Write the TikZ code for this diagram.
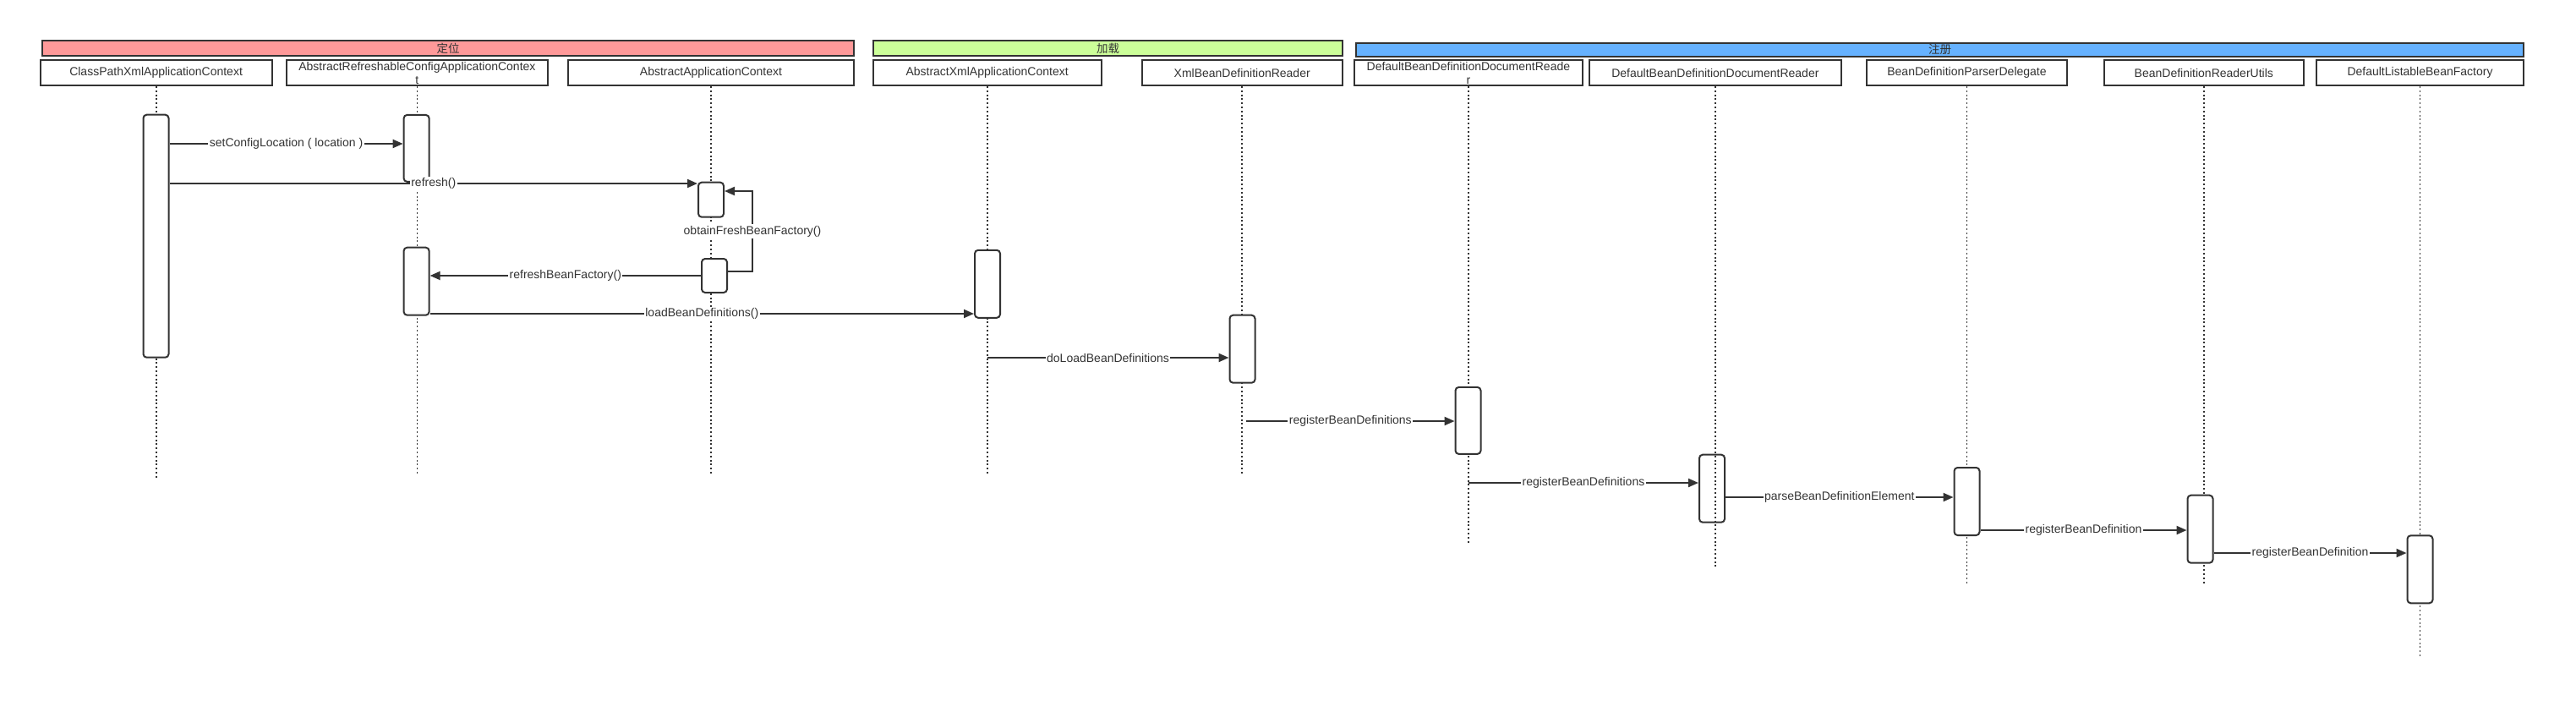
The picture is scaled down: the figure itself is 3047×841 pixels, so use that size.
\documentclass[tikz,border=0pt]{standalone}
\usepackage{fontspec}
\setmainfont{Liberation Sans}
\newfontfamily\cjk{Noto Sans CJK SC}
\usetikzlibrary{arrows.meta}
\definecolor{ink}{HTML}{333333}
\definecolor{pinkc}{HTML}{FF9999}
\definecolor{greenc}{HTML}{CCFF99}
\definecolor{bluec}{HTML}{66B2FF}
\begin{document}
\begin{tikzpicture}[x=1pt,y=-1pt,
  every node/.style={font=\fontsize{14}{16}\selectfont, text=ink},
  banner/.style={draw=ink, line width=2pt, minimum height=18pt, inner sep=0pt, font=\cjk\fontsize{13.5}{14}\selectfont},
  cls/.style={draw=ink, line width=2pt, minimum height=30pt, inner xsep=1pt, inner ysep=0pt, align=center, fill=white},
  life/.style={draw=ink, line width=1.8pt, dash pattern=on 2pt off 2.8pt},
  act/.style={draw=ink, line width=2pt, fill=white, rounded corners=4pt, minimum width=30pt, inner sep=0pt},
  msg/.style={draw=ink, line width=2pt, -{Triangle[length=12pt,width=10pt]}},
  lbl/.style={fill=white, inner sep=1.5pt}
]
\useasboundingbox (0,0) rectangle (3047,841);

% phase banners
\node[banner, fill=pinkc,  minimum width=960pt]  (b1) at (530,57) {定位};
\node[banner, fill=greenc, minimum width=555pt]  (b2) at (1310.5,57) {加载};
\node[banner, fill=bluec,  minimum width=1381pt, minimum height=16pt] (b3) at (2294.5,58.5) {注册};

% class boxes
\node[cls, minimum width=274pt] (c1) at (184.6,86) {ClassPathXmlApplicationContext};
\node[cls, minimum width=309pt] (c2) at (493.4,86) {AbstractRefreshableConfigApplicationContex\\t};
\node[cls, minimum width=338pt] (c3) at (841,86) {AbstractApplicationContext};
\node[cls, minimum width=270pt] (c4) at (1167.6,86) {AbstractXmlApplicationContext};
\node[cls, minimum width=237pt] (c5) at (1469.2,86) {XmlBeanDefinitionReader};
\node[cls, minimum width=270pt] (c6) at (1736.9,86) {DefaultBeanDefinitionDocumentReade\\r};
\node[cls, minimum width=298pt] (c7) at (2028.9,86) {DefaultBeanDefinitionDocumentReader};
\node[cls, minimum width=237pt] (c8) at (2326.5,86) {BeanDefinitionParserDelegate};
\node[cls, minimum width=236pt] (c9) at (2606.8,86) {BeanDefinitionReaderUtils};
\node[cls, minimum width=245pt] (c10) at (2862.5,86) {DefaultListableBeanFactory};

% lifelines
\draw[life] (c1.south) -- (c1.south |- 0,567);
\draw[life] (c2.south) -- (c2.south |- 0,562);
\draw[life] (c3.south) -- (c3.south |- 0,562);
\draw[life] (c4.south) -- (c4.south |- 0,562);
\draw[life] (c5.south) -- (c5.south |- 0,562);
\draw[life] (c6.south) -- (c6.south |- 0,643);
\draw[life] (c8.south) -- (c8.south |- 0,692);
\draw[life] (c9.south) -- (c9.south |- 0,692);
\draw[life] (c10.south) -- (c10.south |- 0,777);

% activation boxes
\node[act, minimum height=287pt] (a1) at (184.5,279.2) {};
\node[act, minimum height=79pt] (a2) at (492.6,175.4) {};
\node[act, minimum height=41pt] (a3) at (841,236.2) {};
\node[act, minimum height=40pt] (a4) at (845,326) {};
\node[act, minimum height=80pt] (a5) at (492.6,332.7) {};
\node[act, minimum height=80pt] (a6) at (1168,335.8) {};
\node[act, minimum height=80pt] (a7) at (1469.5,412.7) {};
\node[act, minimum height=79pt] (a8) at (1736.5,497.4) {};
\node[act, minimum height=80pt, fill=none] (a9) at (2025,577.7) {};
\node[act, minimum height=80pt] (a10) at (2326.5,593) {};
\node[act, minimum height=80pt] (a11) at (2602.5,625.7) {};
\node[act, minimum height=80pt] (a12) at (2862.5,673.3) {};
\draw[life] (c7.south) -- (c7.south |- 0,672);

% messages
\draw[msg] (a1.east |- 0,170) -- node[lbl]{setConfigLocation ( location )} (a2.west |- 0,170);
\draw[msg] (a1.east |- 0,217) -- node[lbl]{refresh()} (a3.west |- 0,217);
\coordinate (loopR) at (890,0);
\draw[msg] (a4.east |- 0,321) -- (loopR |- 0,321) -- node[lbl]{obtainFreshBeanFactory()} (loopR |- 0,226) -- (a3.east |- 0,226);
\draw[msg] (a4.west |- 0,326) -- node[lbl]{refreshBeanFactory()} (a5.east |- 0,326);
\draw[msg] (a5.east |- 0,371) -- node[lbl]{loadBeanDefinitions()} (a6.west |- 0,371);
\draw[msg] (c4.south |- 0,423) -- node[lbl]{doLoadBeanDefinitions} (a7.west |- 0,423);
\draw[msg] ([xshift=5pt]c5.south |- 0,498) -- node[lbl]{registerBeanDefinitions} (a8.west |- 0,498);
\draw[msg] (c6.south |- 0,571) -- node[lbl]{registerBeanDefinitions} (a9.west |- 0,571);
\draw[msg] (a9.east |- 0,588) -- node[lbl]{parseBeanDefinitionElement} (a10.west |- 0,588);
\draw[msg] (a10.east |- 0,627) -- node[lbl]{registerBeanDefinition} (a11.west |- 0,627);
\draw[msg] (a11.east |- 0,654) -- node[lbl]{registerBeanDefinition} (a12.west |- 0,654);
\end{tikzpicture}
\end{document}
